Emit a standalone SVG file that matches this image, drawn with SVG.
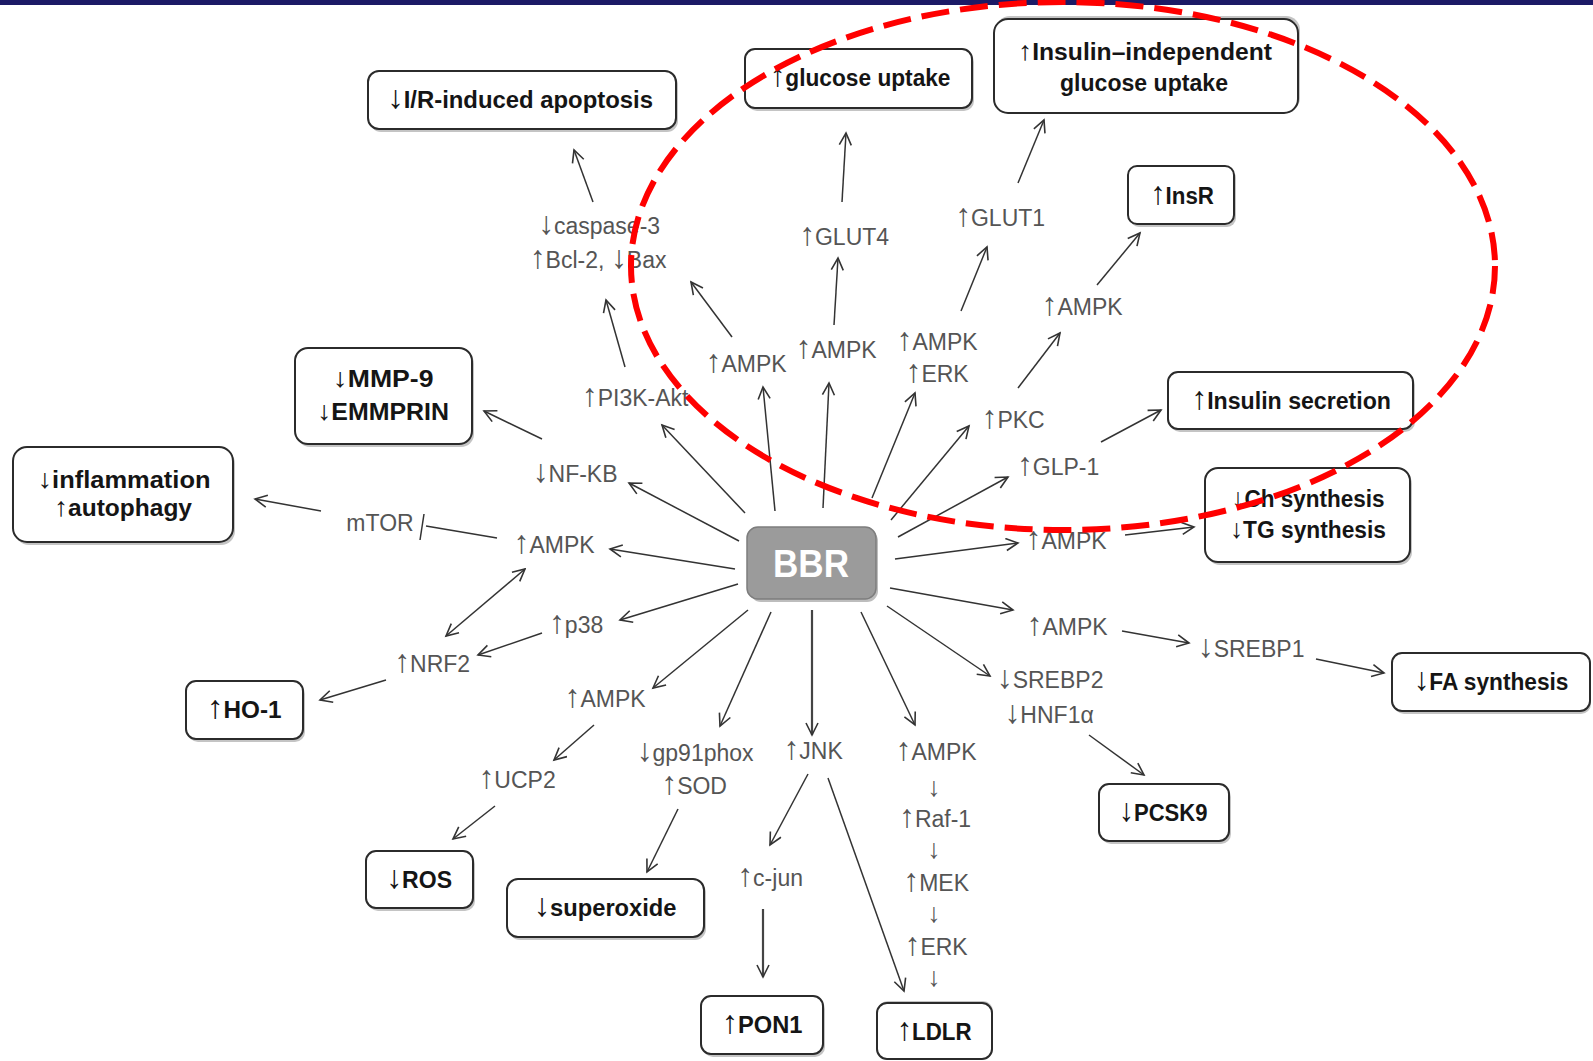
<svg xmlns="http://www.w3.org/2000/svg" width="1593" height="1061" viewBox="0 0 1593 1061">
<defs>
<marker id="ah" markerUnits="userSpaceOnUse" markerWidth="16" markerHeight="16" refX="13" refY="7" orient="auto">
<path d="M1,1 L13,7 L1,13" fill="none" stroke="#333" stroke-width="1.6"/>
</marker>
<marker id="ahs" markerUnits="userSpaceOnUse" markerWidth="16" markerHeight="16" refX="1" refY="7" orient="auto">
<path d="M13,1 L1,7 L13,13" fill="none" stroke="#333" stroke-width="1.6"/>
</marker>
</defs>
<style>
.sh{fill:#c4c4c4;stroke:none}
.bx{fill:#fff;stroke:#2b2b2b;stroke-width:2}
.bt{font-family:"Liberation Sans",Arial,sans-serif;font-weight:bold;font-size:23px;fill:#151515;text-anchor:middle}
.lb{font-family:"Liberation Sans",Arial,sans-serif;font-size:23px;fill:#555;text-anchor:middle}
.a{font-size:1.4em}
.a2{font-size:1.15em}
.da{font-family:"Liberation Sans",Arial,sans-serif;font-size:27px;fill:#555;text-anchor:middle}
.cn line{stroke:#333;stroke-width:1.5;marker-end:url(#ah)}
.cn line.k{stroke-width:2.2;stroke:#444}
</style>
<rect x="0" y="0" width="1593" height="5" fill="#1c1a66"/>

<g class="cn" id="connectors">
<line x1="593" y1="202" x2="574" y2="150"/>
<line x1="625" y1="367" x2="606" y2="300"/>
<line x1="732" y1="337" x2="691" y2="282"/>
<line x1="842" y1="202" x2="846" y2="133"/>
<line x1="834" y1="325" x2="838" y2="258"/>
<line x1="1018" y1="183" x2="1044" y2="120"/>
<line x1="961" y1="311" x2="987" y2="247"/>
<line x1="1097" y1="285" x2="1140" y2="233"/>
<line x1="1018" y1="388" x2="1060" y2="333"/>
<line x1="1101" y1="442" x2="1161" y2="410"/>
<line x1="745" y1="513" x2="662" y2="425"/>
<line x1="775" y1="511" x2="763" y2="387"/>
<line x1="823" y1="508" x2="829" y2="383"/>
<line x1="872" y1="498" x2="915" y2="393"/>
<line x1="891" y1="520" x2="969" y2="426"/>
<line x1="898" y1="537" x2="1008" y2="477"/>
<line x1="895" y1="559" x2="1018" y2="543"/>
<line x1="1125" y1="535" x2="1194" y2="527"/>
<line x1="890" y1="588" x2="1013" y2="610"/>
<line x1="1122" y1="631" x2="1189" y2="643"/>
<line x1="1316" y1="659" x2="1384" y2="673"/>
<line x1="887" y1="606" x2="990" y2="676"/>
<line x1="1089" y1="735" x2="1144" y2="775"/>
<line x1="861" y1="612" x2="915" y2="725"/>
<line class="k" x1="812" y1="610" x2="812" y2="735"/>
<line x1="808" y1="774" x2="770" y2="845"/>
<line x1="828" y1="778" x2="904" y2="991"/>
<line class="k" x1="763" y1="909" x2="763" y2="977"/>
<line x1="771" y1="612" x2="720" y2="726"/>
<line x1="748" y1="610" x2="653" y2="688"/>
<line x1="594" y1="725" x2="554" y2="760"/>
<line x1="495" y1="806" x2="453" y2="839"/>
<line x1="678" y1="809" x2="647" y2="872"/>
<line x1="738" y1="584" x2="620" y2="620"/>
<line x1="542" y1="633" x2="478" y2="655"/>
<line x1="386" y1="680" x2="320" y2="700"/>
<line x1="525" y1="569" x2="446" y2="636" marker-start="url(#ahs)"/>
<line x1="735" y1="569" x2="610" y2="549"/>
<line x1="739" y1="541" x2="629" y2="483"/>
<line x1="542" y1="439" x2="484" y2="411"/>
<line x1="321" y1="511" x2="255" y2="499"/>
<line x1="497" y1="538" x2="426" y2="526" style="marker-end:none"/>
<line x1="424" y1="514" x2="420" y2="540" style="marker-end:none"/>
</g>

<g id="n-bbr">
<rect x="750" y="530" width="128" height="72" rx="11" fill="#bdbdbd"/>
<rect x="747" y="527" width="129" height="72" rx="11" fill="#9b9b9b" stroke="#7d7d7d" stroke-width="1.5"/>
<text x="811" y="577" font-family="Liberation Sans,Arial,sans-serif" font-weight="bold" font-size="38" fill="#fff" text-anchor="middle" textLength="76" lengthAdjust="spacingAndGlyphs">BBR</text>
</g>

<g id="n-ir"><rect class="sh" x="370" y="74" width="308" height="58" rx="11"/><rect class="bx" x="368" y="71" width="308" height="58" rx="11"/><text class="bt" x="520" y="108" textLength="266" lengthAdjust="spacingAndGlyphs"><tspan class="a">↓</tspan>I/R-induced apoptosis</text></g>
<g id="n-glu"><rect class="sh" x="747" y="52" width="227" height="59" rx="10"/><rect class="bx" x="745" y="49" width="227" height="59" rx="10"/><text class="bt" x="860" y="86" textLength="181" lengthAdjust="spacingAndGlyphs"><tspan class="a">↑</tspan>glucose uptake</text></g>
<g id="n-iiglu"><rect class="sh" x="996" y="16" width="304" height="96" rx="14"/><rect class="bx" x="994" y="19" width="304" height="94" rx="14"/><text class="bt" x="1145" y="60" textLength="254" lengthAdjust="spacingAndGlyphs"><tspan class="a2">↑</tspan>Insulin–independent</text><text class="bt" x="1144" y="91" textLength="168" lengthAdjust="spacingAndGlyphs">glucose uptake</text></g>
<g id="n-insr"><rect class="sh" x="1130" y="169" width="106" height="58" rx="9"/><rect class="bx" x="1128" y="166" width="106" height="58" rx="9"/><text class="bt" x="1182" y="204" textLength="64" lengthAdjust="spacingAndGlyphs"><tspan class="a">↑</tspan>InsR</text></g>
<g id="n-inssec"><rect class="sh" x="1170" y="375" width="245" height="57" rx="10"/><rect class="bx" x="1168" y="372" width="245" height="57" rx="10"/><text class="bt" x="1291" y="409" textLength="200" lengthAdjust="spacingAndGlyphs"><tspan class="a">↑</tspan>Insulin secretion</text></g>
<g id="n-chtg"><rect class="sh" x="1207" y="471" width="205" height="94" rx="13"/><rect class="bx" x="1205" y="468" width="205" height="94" rx="13"/><text class="bt" x="1308" y="507" textLength="153" lengthAdjust="spacingAndGlyphs"><tspan class="a2">↓</tspan>Ch synthesis</text><text class="bt" x="1308" y="538" textLength="156" lengthAdjust="spacingAndGlyphs"><tspan class="a2">↓</tspan>TG synthesis</text></g>
<g id="n-fa"><rect class="sh" x="1394" y="656" width="197" height="58" rx="10"/><rect class="bx" x="1392" y="653" width="198" height="58" rx="10"/><text class="bt" x="1491" y="690" textLength="155" lengthAdjust="spacingAndGlyphs"><tspan class="a">↓</tspan>FA synthesis</text></g>
<g id="n-pcsk9"><rect class="sh" x="1101" y="787" width="130" height="57" rx="10"/><rect class="bx" x="1099" y="784" width="130" height="57" rx="10"/><text class="bt" x="1163" y="821" textLength="89" lengthAdjust="spacingAndGlyphs"><tspan class="a">↓</tspan>PCSK9</text></g>
<g id="n-ldlr"><rect class="sh" x="878" y="1001" width="115" height="58" rx="10"/><rect class="bx" x="877" y="1003" width="115" height="56" rx="10"/><text class="bt" x="934" y="1040" textLength="75" lengthAdjust="spacingAndGlyphs"><tspan class="a">↑</tspan>LDLR</text></g>
<g id="n-pon1"><rect class="sh" x="703" y="999" width="122" height="58" rx="10"/><rect class="bx" x="701" y="996" width="122" height="58" rx="10"/><text class="bt" x="762" y="1033" textLength="81" lengthAdjust="spacingAndGlyphs"><tspan class="a">↑</tspan>PON1</text></g>
<g id="n-superoxide"><rect class="sh" x="509" y="882" width="197" height="58" rx="11"/><rect class="bx" x="507" y="879" width="197" height="58" rx="11"/><text class="bt" x="605" y="916" textLength="143" lengthAdjust="spacingAndGlyphs"><tspan class="a">↓</tspan>superoxide</text></g>
<g id="n-ros"><rect class="sh" x="368" y="854" width="107" height="57" rx="10"/><rect class="bx" x="366" y="851" width="107" height="57" rx="10"/><text class="bt" x="419" y="888" textLength="66" lengthAdjust="spacingAndGlyphs"><tspan class="a">↓</tspan>ROS</text></g>
<g id="n-ho1"><rect class="sh" x="188" y="684" width="117" height="58" rx="10"/><rect class="bx" x="186" y="681" width="117" height="58" rx="10"/><text class="bt" x="244" y="718" textLength="75" lengthAdjust="spacingAndGlyphs"><tspan class="a">↑</tspan>HO-1</text></g>
<g id="n-infl"><rect class="sh" x="15" y="450" width="220" height="95" rx="14"/><rect class="bx" x="13" y="447" width="220" height="95" rx="14"/><text class="bt" x="124" y="488" textLength="173" lengthAdjust="spacingAndGlyphs"><tspan class="a2">↓</tspan>inflammation</text><text class="bt" x="123" y="516" textLength="138" lengthAdjust="spacingAndGlyphs"><tspan class="a2">↑</tspan>autophagy</text></g>
<g id="n-mmp"><rect class="sh" x="297" y="351" width="177" height="96" rx="13"/><rect class="bx" x="295" y="348" width="177" height="96" rx="13"/><text class="bt" x="383" y="387" textLength="101" lengthAdjust="spacingAndGlyphs"><tspan class="a2">↓</tspan>MMP-9</text><text class="bt" x="383" y="420" textLength="132" lengthAdjust="spacingAndGlyphs"><tspan class="a2">↓</tspan>EMMPRIN</text></g>

<g id="l-casp"><text class="lb" x="599" y="234"><tspan class="a">↓</tspan>caspase-3</text></g>
<g id="l-bcl"><text class="lb" x="598" y="268"><tspan class="a">↑</tspan>Bcl-2, <tspan class="a">↓</tspan>Bax</text></g>
<g id="l-glut4"><text class="lb" x="844" y="245"><tspan class="a">↑</tspan>GLUT4</text></g>
<g id="l-glut1"><text class="lb" x="1000" y="226"><tspan class="a">↑</tspan>GLUT1</text></g>
<g id="l-ampk-insr"><text class="lb" x="1082" y="315"><tspan class="a">↑</tspan>AMPK</text></g>
<g id="l-ampk-a"><text class="lb" x="746" y="372"><tspan class="a">↑</tspan>AMPK</text></g>
<g id="l-ampk-b"><text class="lb" x="836" y="358"><tspan class="a">↑</tspan>AMPK</text></g>
<g id="l-ampk-erk"><text class="lb" x="937" y="350"><tspan class="a">↑</tspan>AMPK</text><text class="lb" x="937" y="382"><tspan class="a">↑</tspan>ERK</text></g>
<g id="l-pi3k"><text class="lb" x="635" y="406"><tspan class="a">↑</tspan>PI3K-Akt</text></g>
<g id="l-pkc"><text class="lb" x="1013" y="428"><tspan class="a">↑</tspan>PKC</text></g>
<g id="l-glp1"><text class="lb" x="1058" y="475"><tspan class="a">↑</tspan>GLP-1</text></g>
<g id="l-nfkb"><text class="lb" x="575" y="482"><tspan class="a">↓</tspan>NF-KB</text></g>
<g id="l-mtor"><text class="lb" x="380" y="531">mTOR</text></g>
<g id="l-ampk-l"><text class="lb" x="554" y="553"><tspan class="a">↑</tspan>AMPK</text></g>
<g id="l-ampk-r"><text class="lb" x="1066" y="549"><tspan class="a">↑</tspan>AMPK</text></g>
<g id="l-ampk-fa"><text class="lb" x="1067" y="635"><tspan class="a">↑</tspan>AMPK</text></g>
<g id="l-srebp1"><text class="lb" x="1251" y="657"><tspan class="a">↓</tspan>SREBP1</text></g>
<g id="l-srebp2"><text class="lb" x="1050" y="688"><tspan class="a">↓</tspan>SREBP2</text><text class="lb" x="1049" y="723"><tspan class="a">↓</tspan>HNF1α</text></g>
<g id="l-p38"><text class="lb" x="576" y="633"><tspan class="a">↑</tspan>p38</text></g>
<g id="l-nrf2"><text class="lb" x="432" y="672"><tspan class="a">↑</tspan>NRF2</text></g>
<g id="l-ampk-sw"><text class="lb" x="605" y="707"><tspan class="a">↑</tspan>AMPK</text></g>
<g id="l-ucp2"><text class="lb" x="517" y="788"><tspan class="a">↑</tspan>UCP2</text></g>
<g id="l-gp91"><text class="lb" x="695" y="761"><tspan class="a">↓</tspan>gp91phox</text><text class="lb" x="694" y="794"><tspan class="a">↑</tspan>SOD</text></g>
<g id="l-jnk"><text class="lb" x="813" y="759"><tspan class="a">↑</tspan>JNK</text></g>
<g id="l-cjun"><text class="lb" x="770" y="886"><tspan class="a">↑</tspan>c-jun</text></g>
<g id="l-chain">
<text class="lb" x="936" y="760"><tspan class="a">↑</tspan>AMPK</text>
<text class="da" x="934" y="796">↓</text>
<text class="lb" x="935" y="827"><tspan class="a">↑</tspan>Raf-1</text>
<text class="da" x="934" y="858">↓</text>
<text class="lb" x="936" y="891"><tspan class="a">↑</tspan>MEK</text>
<text class="da" x="934" y="922">↓</text>
<text class="lb" x="936" y="955"><tspan class="a">↑</tspan>ERK</text>
<text class="da" x="934" y="986">↓</text>
</g>

<ellipse cx="1063" cy="266" rx="432" ry="264" fill="none" stroke="#f00" stroke-width="6" stroke-dasharray="28 11"/>
</svg>
